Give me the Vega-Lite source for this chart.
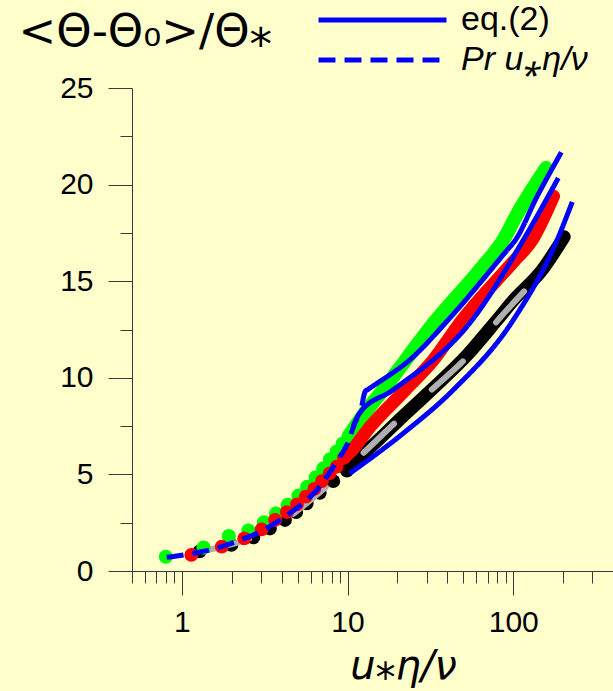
{
  "$schema": "https://vega.github.io/schema/vega-lite/v6.json",
  "autosize": {"type": "none"},
  "width": 481,
  "height": 483,
  "padding": {"left": 132, "top": 88, "right": 0, "bottom": 120},
  "background": "#FFFFCC",
  "config": {
    "view": {"stroke": null},
    "font": "Liberation Sans",
    "axis": {
      "grid": false,
      "domainColor": "#3a3a3a",
      "tickColor": "#3a3a3a",
      "domainWidth": 1,
      "tickWidth": 1,
      "labelColor": "#000000",
      "labelFont": "Liberation Sans",
      "labelFontSize": 30,
      "titleColor": "#000000"
    }
  },
  "datasets": {
    "dots": [
      {"s": "black", "x": 1.28, "y": 1.02},
      {"s": "black", "x": 1.99, "y": 1.35},
      {"s": "black", "x": 2.7, "y": 1.74},
      {"s": "black", "x": 3.4, "y": 2.2},
      {"s": "black", "x": 4.19, "y": 2.64},
      {"s": "black", "x": 4.9, "y": 3.05},
      {"s": "black", "x": 5.67, "y": 3.5},
      {"s": "black", "x": 6.8, "y": 4.05},
      {"s": "black", "x": 8.2, "y": 4.65},
      {"s": "black", "x": 9.9, "y": 5.2},
      {"s": "green", "x": 0.8, "y": 0.74},
      {"s": "green", "x": 1.35, "y": 1.21},
      {"s": "green", "x": 1.92, "y": 1.81},
      {"s": "green", "x": 2.52, "y": 2.09},
      {"s": "green", "x": 3.13, "y": 2.52},
      {"s": "green", "x": 3.7, "y": 2.97},
      {"s": "green", "x": 4.35, "y": 3.42},
      {"s": "green", "x": 5.05, "y": 3.9},
      {"s": "green", "x": 5.71, "y": 4.36},
      {"s": "green", "x": 6.43, "y": 4.85},
      {"s": "green", "x": 7.14, "y": 5.31},
      {"s": "green", "x": 7.84, "y": 5.78},
      {"s": "green", "x": 8.6, "y": 6.18},
      {"s": "green", "x": 9.35, "y": 6.6},
      {"s": "green", "x": 10.2, "y": 7.0},
      {"s": "red", "x": 1.14, "y": 0.83},
      {"s": "red", "x": 1.74, "y": 1.26},
      {"s": "red", "x": 2.38, "y": 1.69},
      {"s": "red", "x": 3.03, "y": 2.16},
      {"s": "red", "x": 3.65, "y": 2.64},
      {"s": "red", "x": 4.3, "y": 3.05},
      {"s": "red", "x": 4.95, "y": 3.45},
      {"s": "red", "x": 5.6, "y": 3.85},
      {"s": "red", "x": 6.3, "y": 4.25},
      {"s": "red", "x": 7.0, "y": 4.65},
      {"s": "red", "x": 7.8, "y": 5.05},
      {"s": "red", "x": 8.6, "y": 5.4},
      {"s": "red", "x": 9.5, "y": 5.85}
    ],
    "bands": [
      {"s": "black", "x": 9.9, "y": 5.2},
      {"s": "black", "x": 11.9, "y": 5.9},
      {"s": "black", "x": 15.4, "y": 6.8},
      {"s": "black", "x": 19.8, "y": 7.7},
      {"s": "black", "x": 32, "y": 9.37},
      {"s": "black", "x": 53, "y": 11.2},
      {"s": "black", "x": 80, "y": 13.0},
      {"s": "black", "x": 100, "y": 14.0},
      {"s": "black", "x": 150, "y": 15.6},
      {"s": "black", "x": 203, "y": 17.3},
      {"s": "green", "x": 10.2, "y": 7.0},
      {"s": "green", "x": 12.5, "y": 8.1},
      {"s": "green", "x": 16.4, "y": 9.37},
      {"s": "green", "x": 34.3, "y": 12.99},
      {"s": "green", "x": 63, "y": 15.6},
      {"s": "green", "x": 87, "y": 17.13},
      {"s": "green", "x": 106, "y": 18.5},
      {"s": "green", "x": 158, "y": 20.86},
      {"s": "red", "x": 9.5, "y": 5.85},
      {"s": "red", "x": 10.5, "y": 6.2},
      {"s": "red", "x": 13.7, "y": 7.47},
      {"s": "red", "x": 22.3, "y": 9.37},
      {"s": "red", "x": 32.9, "y": 10.92},
      {"s": "red", "x": 49.2, "y": 12.99},
      {"s": "red", "x": 100, "y": 16.0},
      {"s": "red", "x": 130, "y": 17.13},
      {"s": "red", "x": 175, "y": 19.4}
    ],
    "gray": [
      {"x": 1.45, "y": 1.1},
      {"x": 2.7, "y": 1.76},
      {"x": 4.19, "y": 2.66},
      {"x": 7.3, "y": 4.3},
      {"x": 11.9, "y": 5.95},
      {"x": 19.8, "y": 7.75},
      {"x": 32.8, "y": 9.45},
      {"x": 53, "y": 11.1},
      {"x": 85, "y": 13.2},
      {"x": 120, "y": 14.6}
    ],
    "blue": [
      {"id": "pr", "kind": "Pr u⁎η/ν", "x": 0.81, "y": 0.71},
      {"id": "pr", "kind": "Pr u⁎η/ν", "x": 1.02, "y": 0.83},
      {"id": "pr", "kind": "Pr u⁎η/ν", "x": 1.17, "y": 0.92},
      {"id": "pr", "kind": "Pr u⁎η/ν", "x": 1.48, "y": 1.09},
      {"id": "pr", "kind": "Pr u⁎η/ν", "x": 1.86, "y": 1.35},
      {"id": "pr", "kind": "Pr u⁎η/ν", "x": 2.24, "y": 1.6},
      {"id": "pr", "kind": "Pr u⁎η/ν", "x": 2.7, "y": 1.86},
      {"id": "pr", "kind": "Pr u⁎η/ν", "x": 3.25, "y": 2.21},
      {"id": "pr", "kind": "Pr u⁎η/ν", "x": 3.91, "y": 2.64},
      {"id": "pr", "kind": "Pr u⁎η/ν", "x": 4.7, "y": 3.12},
      {"id": "pr", "kind": "Pr u⁎η/ν", "x": 5.66, "y": 3.67},
      {"id": "pr", "kind": "Pr u⁎η/ν", "x": 6.52, "y": 4.19},
      {"id": "pr", "kind": "Pr u⁎η/ν", "x": 7.49, "y": 4.88},
      {"id": "pr", "kind": "Pr u⁎η/ν", "x": 8.6, "y": 5.66},
      {"id": "pr", "kind": "Pr u⁎η/ν", "x": 9.9, "y": 6.52},
      {"id": "pr", "kind": "Pr u⁎η/ν", "x": 11.3, "y": 7.82},
      {"id": "pr", "kind": "Pr u⁎η/ν", "x": 11.6, "y": 8.0},
      {"id": "eq1", "kind": "eq.(2)", "x": 12.2, "y": 8.55},
      {"id": "eq1", "kind": "eq.(2)", "x": 12.8, "y": 9.3},
      {"id": "eq1", "kind": "eq.(2)", "x": 13.3, "y": 9.4},
      {"id": "eq1", "kind": "eq.(2)", "x": 25, "y": 11.1},
      {"id": "eq1", "kind": "eq.(2)", "x": 40.5, "y": 13.0},
      {"id": "eq1", "kind": "eq.(2)", "x": 91.6, "y": 16.6},
      {"id": "eq1", "kind": "eq.(2)", "x": 103, "y": 17.13},
      {"id": "eq1", "kind": "eq.(2)", "x": 139, "y": 19.37},
      {"id": "eq1", "kind": "eq.(2)", "x": 195, "y": 21.67},
      {"id": "eq2", "kind": "eq.(2)", "x": 10.8, "y": 7.47},
      {"id": "eq2", "kind": "eq.(2)", "x": 11.8, "y": 8.16},
      {"id": "eq2", "kind": "eq.(2)", "x": 18.8, "y": 9.37},
      {"id": "eq2", "kind": "eq.(2)", "x": 56.5, "y": 12.99},
      {"id": "eq2", "kind": "eq.(2)", "x": 115, "y": 17.13},
      {"id": "eq2", "kind": "eq.(2)", "x": 187, "y": 20.34},
      {"id": "eq3", "kind": "eq.(2)", "x": 10.3, "y": 5.05},
      {"id": "eq3", "kind": "eq.(2)", "x": 21.7, "y": 7.13},
      {"id": "eq3", "kind": "eq.(2)", "x": 43.4, "y": 9.37},
      {"id": "eq3", "kind": "eq.(2)", "x": 100, "y": 12.99},
      {"id": "eq3", "kind": "eq.(2)", "x": 184, "y": 17.13},
      {"id": "eq3", "kind": "eq.(2)", "x": 227, "y": 19.1}
    ]
  },
  "encoding": {
    "x": {
      "field": "x",
      "type": "quantitative",
      "scale": {"type": "log", "domain": [0.5, 400], "nice": false},
      "axis": {
        "values": [0.5, 0.6, 0.7, 0.8, 0.9, 1, 2, 3, 4, 5, 6, 7, 8, 9, 10, 20, 30, 40, 50, 60, 70, 80, 90, 100, 200, 300],
        "labelExpr": "datum.value == 1 || datum.value == 10 || datum.value == 100 ? format(datum.value, 'd') : ''",
        "tickSize": {"condition": {"test": "datum.value == 1 || datum.value == 10 || datum.value == 100", "value": 24}, "value": 12},
        "labelPadding": 12,
        "labelFlush": false,
        "labelOverlap": false,
        "title": "u⁎η/ν",
        "titleFont": "DejaVu Sans",
        "titleFontSize": 40,
        "titleFontStyle": "italic",
        "titleFontWeight": "normal",
        "titleX": 271,
        "titleY": 107,
        "titleAlign": "center",
        "titleBaseline": "alphabetic"
      }
    },
    "y": {
      "field": "y",
      "type": "quantitative",
      "scale": {"domain": [0, 25], "nice": false},
      "axis": {
        "values": [0, 2.5, 5, 7.5, 10, 12.5, 15, 17.5, 20, 22.5, 25],
        "labelExpr": "datum.value % 5 == 0 ? format(datum.value, 'd') : ''",
        "tickSize": {"condition": {"test": "datum.value % 5 == 0", "value": 24}, "value": 12},
        "labelPadding": 15,
        "labelOverlap": false,
        "title": "<Θ-Θ₀>/Θ⁎",
        "titleFont": "DejaVu Sans",
        "titleFontSize": 45,
        "titleFontWeight": "normal",
        "titleAngle": 0,
        "titleAlign": "left",
        "titleBaseline": "alphabetic",
        "titleX": -114,
        "titleY": -43
      }
    }
  },
  "layer": [
    {
      "data": {"name": "bands"},
      "transform": [{"filter": "datum.s == 'black'"}],
      "mark": {"type": "line", "color": "#000000", "strokeWidth": 13, "strokeCap": "round", "strokeJoin": "round", "interpolate": "monotone"}
    },
    {
      "data": {"name": "dots"},
      "transform": [{"filter": "datum.s == 'black'"}],
      "mark": {"type": "point", "shape": "circle", "filled": true, "size": 190, "color": "#000000", "opacity": 1}
    },
    {
      "data": {"name": "gray"},
      "mark": {"type": "line", "color": "#AFAFAF", "strokeWidth": 6, "strokeCap": "round", "strokeDash": [42, 51], "interpolate": "monotone"}
    },
    {
      "data": {"name": "dots"},
      "transform": [{"filter": "datum.s == 'green'"}],
      "mark": {"type": "point", "shape": "circle", "filled": true, "size": 200, "color": "#00FF00", "opacity": 1}
    },
    {
      "data": {"name": "bands"},
      "transform": [{"filter": "datum.s == 'green'"}],
      "mark": {"type": "line", "color": "#00FF00", "strokeWidth": 14, "strokeCap": "round", "strokeJoin": "round", "interpolate": "monotone"}
    },
    {
      "data": {"name": "dots"},
      "transform": [{"filter": "datum.s == 'red'"}],
      "mark": {"type": "point", "shape": "circle", "filled": true, "size": 190, "color": "#FF0000", "opacity": 1}
    },
    {
      "data": {"name": "bands"},
      "transform": [{"filter": "datum.s == 'red'"}],
      "mark": {"type": "line", "color": "#FF0000", "strokeWidth": 13, "strokeCap": "round", "strokeJoin": "round", "interpolate": "monotone"}
    },
    {
      "data": {"name": "blue"},
      "mark": {"type": "line", "strokeWidth": 5, "strokeCap": "butt", "strokeJoin": "round", "interpolate": "monotone"},
      "encoding": {
        "detail": {"field": "id"},
        "color": {
          "field": "kind",
          "type": "nominal",
          "scale": {"domain": ["eq.(2)", "Pr u⁎η/ν"], "range": ["#0000FF", "#0000FF"]},
          "legend": {
            "title": null,
            "orient": "none",
            "legendX": 184,
            "legendY": -88,
            "symbolType": "stroke",
            "symbolSize": 16384,
            "symbolStrokeWidth": 5,
            "clipHeight": 40,
            "labelFontSize": 34,
            "labelFont": "Liberation Sans",
            "labelColor": "#000000",
            "labelLimit": 600,
            "labelOffset": 12,
            "rowPadding": 0,
            "padding": 0,
            "encode": {"labels": {"update": {"fontStyle": {"signal": "datum.label == 'eq.(2)' ? 'normal' : 'italic'"}}}}
          }
        },
        "strokeDash": {
          "field": "kind",
          "type": "nominal",
          "scale": {"domain": ["eq.(2)", "Pr u⁎η/ν"], "range": [[1, 0], [17, 9]]}
        }
      }
    }
  ]
}
